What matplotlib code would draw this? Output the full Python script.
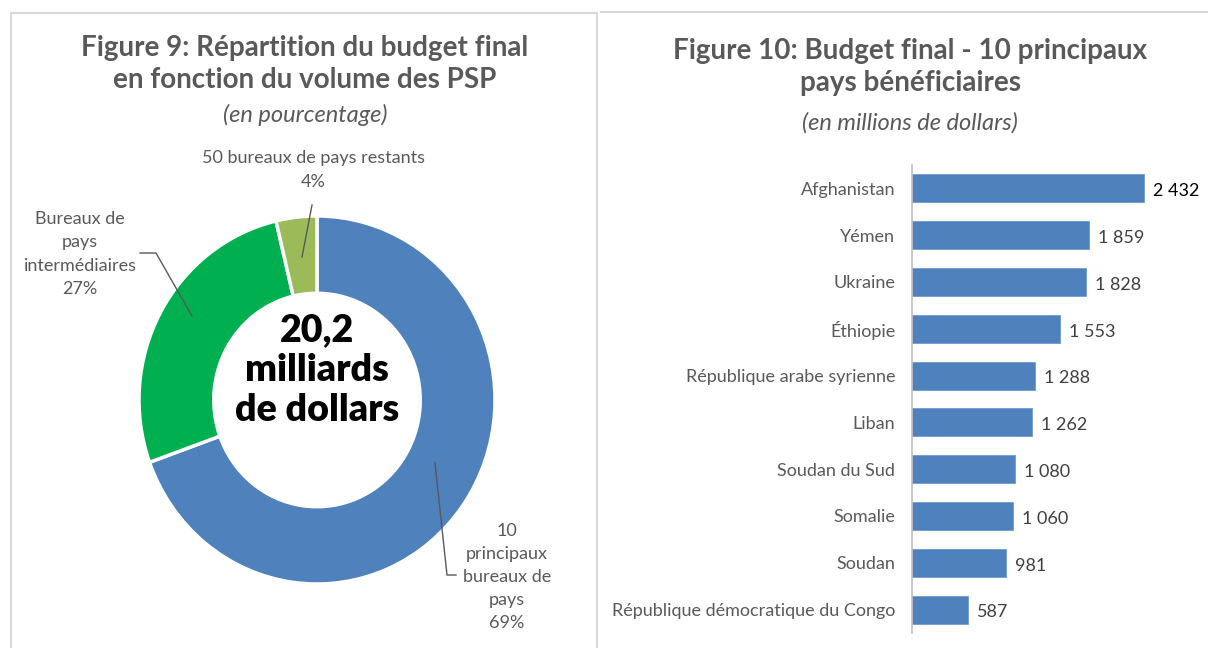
import matplotlib
matplotlib.use("Agg")
import matplotlib.pyplot as plt
from matplotlib.lines import Line2D

# ---------------- data ----------------
pie_labels = ["10\nprincipaux\nbureaux de\npays", "Bureaux de\npays\nintermédiaires", "50 bureaux de pays restants"]
pie_values = [69.5, 26.8, 3.7]
pie_pct_text = ["69%", "27%", "4%"]
pie_colors = ["#4F81BD", "#00B050", "#9BBB59"]
center_text = "20,2\nmilliards\nde dollars"

countries = ["Afghanistan", "Yémen", "Ukraine", "Éthiopie", "République arabe syrienne",
             "Liban", "Soudan du Sud", "Somalie", "Soudan", "République démocratique du Congo"]
budgets = [2432, 1859, 1828, 1553, 1288, 1262, 1080, 1060, 981, 587]
budget_labels = ["2 432", "1 859", "1 828", "1 553", "1 288", "1 262", "1 080", "1 060", "981", "587"]

title_left = "Figure 9: Répartition du budget final\nen fonction du volume des PSP"
sub_left = "(en pourcentage)"
title_right = "Figure 10: Budget final - 10 principaux\npays bénéficiaires"
sub_right = "(en millions de dollars)"

FONT = "Lato"
W, H = 1208, 648
fig = plt.figure(figsize=(W / 100, H / 100), dpi=100)
fig.patch.set_facecolor("white")

def fx(px):
    return px / W

def fy(py):
    return 1 - py / H

GRAY = "#595959"
BORDER = "#D9D9D9"

# panel borders
fig.add_artist(Line2D([fx(11), fx(11)], [fy(13), fy(648)], color=BORDER, lw=1.5, transform=fig.transFigure))
fig.add_artist(Line2D([fx(11), fx(597)], [fy(13), fy(13)], color=BORDER, lw=1.5, transform=fig.transFigure))
fig.add_artist(Line2D([fx(597), fx(597)], [fy(13), fy(648)], color=BORDER, lw=1.5, transform=fig.transFigure))
fig.add_artist(Line2D([fx(601), fx(1208)], [fy(12), fy(12)], color=BORDER, lw=1.5, transform=fig.transFigure))

# titles
fig.text(fx(305), fy(64), title_left, ha="center", va="center", fontsize=20, fontweight="bold",
         color=GRAY, family=FONT, linespacing=1.3)
fig.text(fx(305), fy(115), sub_left, ha="center", va="center", fontsize=17, style="italic",
         color=GRAY, family=FONT)
fig.text(fx(910), fy(67), title_right, ha="center", va="center", fontsize=20, fontweight="bold",
         color=GRAY, family=FONT, linespacing=1.3)
fig.text(fx(910), fy(123), sub_right, ha="center", va="center", fontsize=17, style="italic",
         color=GRAY, family=FONT)

# ---------------- donut ----------------
RX, RY = 178.0, 184.0
cx, cy = 317, 400
half = 220
axp = fig.add_axes([fx(cx - half), fy(cy + half), 2 * half / W, 2 * half / H])
axp.pie(pie_values, colors=pie_colors, startangle=90, counterclock=False,
        wedgeprops=dict(width=0.42, edgecolor="white", linewidth=2.5))
axp.set_aspect("auto")
axp.set_xlim(-half / RX, half / RX)
axp.set_ylim(-half / RY, half / RY)
axp.axis("off")

def dx(px):
    return (px - cx) / RX

def dy(py):
    return (cy - py) / RY

axp.text(0, dy(370), center_text, ha="center", va="center", fontsize=27, fontweight="heavy",
         color="black", family=FONT, linespacing=1.22)

lab_kw = dict(ha="center", va="center", fontsize=13, color=GRAY, family=FONT, linespacing=1.55)
# labels
axp.text(dx(507), dy(577), pie_labels[0] + "\n" + pie_pct_text[0], **lab_kw)
axp.text(dx(80), dy(254), pie_labels[1] + "\n" + pie_pct_text[1], **lab_kw)
axp.text(dx(313), dy(170), pie_labels[2] + "\n" + pie_pct_text[2], **lab_kw)
# leader lines
lc = "#595959"
axp.plot([dx(435), dx(447), dx(456)], [dy(463), dy(575), dy(575)], color=lc, lw=1)
axp.plot([dx(140), dx(156), dx(192)], [dy(253), dy(253), dy(316)], color=lc, lw=1)
axp.plot([dx(312), dx(302)], [dy(205), dy(257)], color=lc, lw=1)

# ---------------- bars ----------------
x0, x1 = 912, 1144
top, bottom = 165, 633
axb = fig.add_axes([fx(x0), fy(bottom), (1190 - x0) / W, (bottom - top) / H])
n = len(countries)
ypos = list(range(n))
axb.barh(ypos, budgets, height=0.6, color="#4F81BD", edgecolor="#6F9AD0", linewidth=0.6)
axb.set_ylim(n - 0.5, -0.5)
scale = budgets[0] / (x1 - x0)
axb.set_xlim(0, (1190 - x0) * scale)
axb.set_yticks(ypos)
axb.set_yticklabels(countries, fontsize=13, color=GRAY, family=FONT)
axb.tick_params(axis="y", length=0, pad=12)
axb.set_xticks([])
for s in ["top", "right", "bottom"]:
    axb.spines[s].set_visible(False)
axb.spines["left"].set_color("#BFBFBF")
axb.spines["left"].set_linewidth(1.2)
for i, (v, t) in enumerate(zip(budgets, budget_labels)):
    axb.text(v + 9 * scale, i + 0.06, t, ha="left", va="center", fontsize=13,
             color="#000000" if i == 0 else "#404040", family=FONT)

fig.savefig("out.png", dpi=100, facecolor="white")
